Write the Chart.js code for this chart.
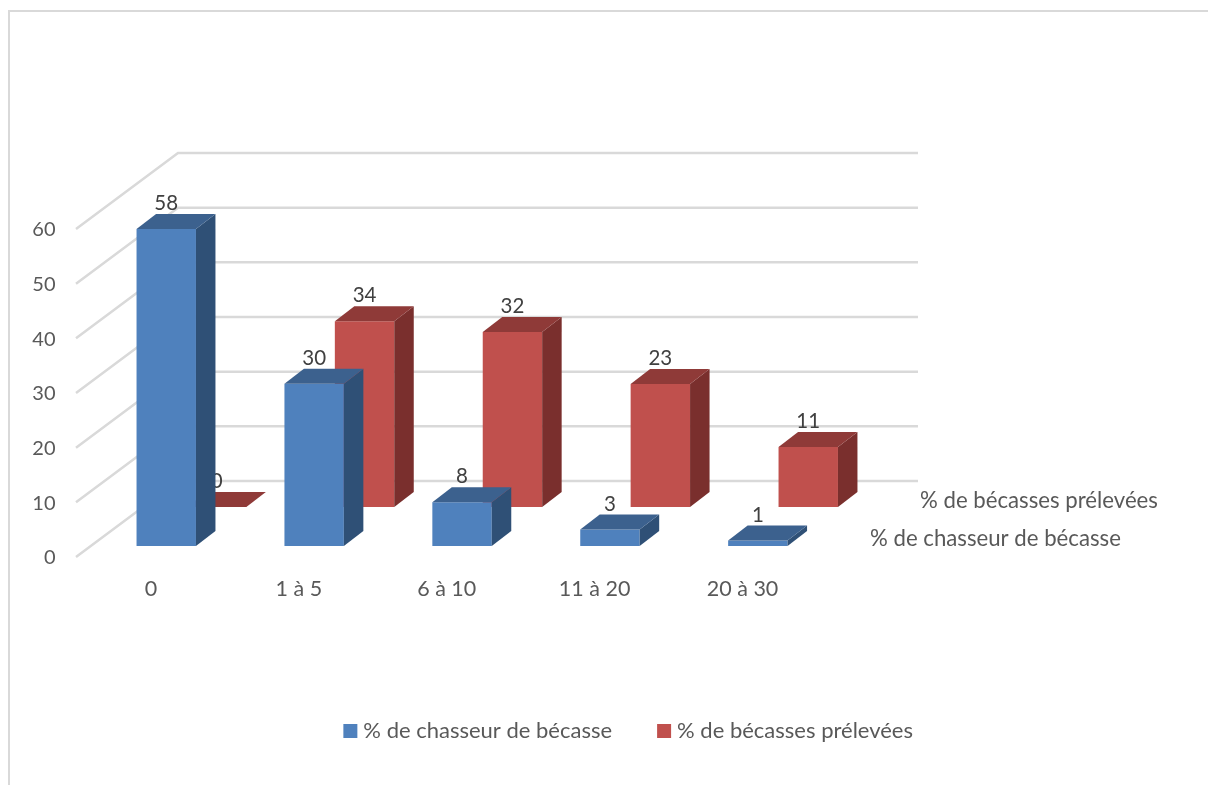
<!DOCTYPE html>
<html>
<head>
<meta charset="utf-8">
<style>
  body { margin: 0; background: #fff; }
  canvas { display: block; }
</style>
<script src="https://cdn.jsdelivr.net/npm/chart.js@4"></script>
</head>
<body>
<canvas id="chart" width="1208" height="785"></canvas>
<script>
const categories = ["0", "1 à 5", "6 à 10", "11 à 20", "20 à 30"];
const chasseurs = [58, 29.7, 8, 3, 1];
const becasses = [0, 34, 32, 22.5, 11];
const seriesNames = ["% de chasseur de bécasse", "% de bécasses prélevées"];

const FONT = "Lato";
const barDepth = { x: 19.5, y: 15 };

const faces = [
  { top: "#3c618e", side: "#2f5076" },
  { top: "#8f3a38", side: "#7a2f2d" },
];

// back wall and left wall of the 3D box
const wallPlugin = {
  id: "wall",
  beforeDraw(chart) {
    const ctx = chart.ctx;
    ctx.save();
    ctx.strokeStyle = "#d9d9d9";
    ctx.lineWidth = 2;
    ctx.beginPath();
    ctx.moveTo(9, chart.height);
    ctx.lineTo(9, 11);
    ctx.lineTo(chart.width, 11);
    ctx.stroke();
    ctx.restore();
  },
  beforeDatasetsDraw(chart) {
    const ctx = chart.ctx;
    const area = chart.chartArea;
    const y = chart.scales.y;
    ctx.save();
    ctx.strokeStyle = "#d9d9d9";
    ctx.lineWidth = 2.5;
    y.ticks.forEach((tick) => {
      const py = y.getPixelForValue(tick.value);
      ctx.beginPath();
      ctx.moveTo(area.left - 41.5, py + 11);
      ctx.lineTo(area.left + 60.5, py - 65);
      ctx.lineTo(area.right + 61, py - 65);
      ctx.stroke();
    });
    ctx.restore();
  },
};

// side and top faces, drawn per dataset so the front series hides the back one
const barFacesPlugin = {
  id: "barFaces",
  afterDatasetDraw(chart, args) {
    const ctx = chart.ctx;
    const meta = args.meta;
    const color = faces[args.index];
    ctx.save();
    meta.data.forEach((bar, i) => {
      const half = bar.width / 2;
      const left = bar.x - half;
      const right = bar.x + half;

      ctx.fillStyle = color.side;
      ctx.beginPath();
      ctx.moveTo(right, bar.y);
      ctx.lineTo(right + barDepth.x, bar.y - barDepth.y);
      ctx.lineTo(right + barDepth.x, bar.base - barDepth.y);
      ctx.lineTo(right, bar.base);
      ctx.closePath();
      ctx.fill();

      ctx.fillStyle = color.top;
      ctx.beginPath();
      ctx.moveTo(left, bar.y);
      ctx.lineTo(right, bar.y);
      ctx.lineTo(right + barDepth.x, bar.y - barDepth.y);
      ctx.lineTo(left + barDepth.x, bar.y - barDepth.y);
      ctx.closePath();
      ctx.fill();

      ctx.fillStyle = "#404040";
      ctx.font = `20.5px ${FONT}`;
      ctx.textAlign = "center";
      ctx.textBaseline = "middle";
      const value = chart.data.datasets[args.index].data[i];
      ctx.fillText(Math.round(value), bar.x, bar.y - barDepth.y - 10.5);
    });
    ctx.restore();
  },
  afterDraw(chart) {
    // series names on the depth axis
    const ctx = chart.ctx;
    const area = chart.chartArea;
    ctx.save();
    ctx.fillStyle = "#595959";
    ctx.font = `22.2px ${FONT}`;
    ctx.textAlign = "left";
    ctx.textBaseline = "middle";
    ctx.fillText(seriesNames[1], area.right + 63, 501);
    ctx.fillText(seriesNames[0], area.right + 13, 539);
    ctx.restore();
  },
};

new Chart(document.getElementById("chart"), {
  type: "bar",
  data: {
    labels: categories,
    datasets: [
      {
        label: seriesNames[0],
        data: chasseurs,
        backgroundColor: "#4f81bd",
        yAxisID: "y",
        order: 1,
      },
      {
        label: seriesNames[1],
        data: becasses,
        backgroundColor: "#c0504d",
        yAxisID: "yBack",
        order: 2,
      },
    ],
  },
  options: {
    responsive: false,
    animation: false,
    events: [],
    categoryPercentage: 0.6815,
    barPercentage: 1.179,
    layout: {
      autoPadding: false,
      padding: { left: 0, right: 245, top: 218, bottom: 33 },
    },
    plugins: {
      title: { display: false },
      tooltip: { enabled: false },
      legend: {
        position: "bottom",
        align: "end",
        labels: {
          usePointStyle: true,
          pointStyle: "rect",
          boxWidth: 4,
          boxHeight: 14,
          padding: 50,
          color: "#595959",
          font: { family: FONT, size: 22 },
        },
      },
    },
    scales: {
      x: {
        grid: { display: false, drawTicks: false },
        border: { display: false },
        ticks: {
          padding: 30,
          labelOffset: -40.5,
          maxRotation: 0,
          color: "#595959",
          font: { family: FONT, size: 21.5 },
        },
        afterFit: (axis) => {
          axis.height = 124;
        },
      },
      y: {
        min: 0,
        max: 60,
        grid: { display: false, drawTicks: false },
        border: { display: false },
        ticks: {
          stepSize: 10,
          padding: 62,
          labelOffset: 12,
          color: "#595959",
          font: { family: FONT, size: 20 },
        },
        afterFit: (axis) => {
          axis.width = 117.5;
        },
      },
      // same pixel range as y, floor moved up for the back row of bars
      yBack: {
        position: "right",
        min: -7.13,
        max: 52.87,
        grid: { display: false, drawTicks: false },
        border: { display: false },
        ticks: { display: false },
        afterFit: (axis) => {
          axis.width = 106;
        },
      },
    },
  },
  plugins: [wallPlugin, barFacesPlugin],
});
</script>
</body>
</html>
